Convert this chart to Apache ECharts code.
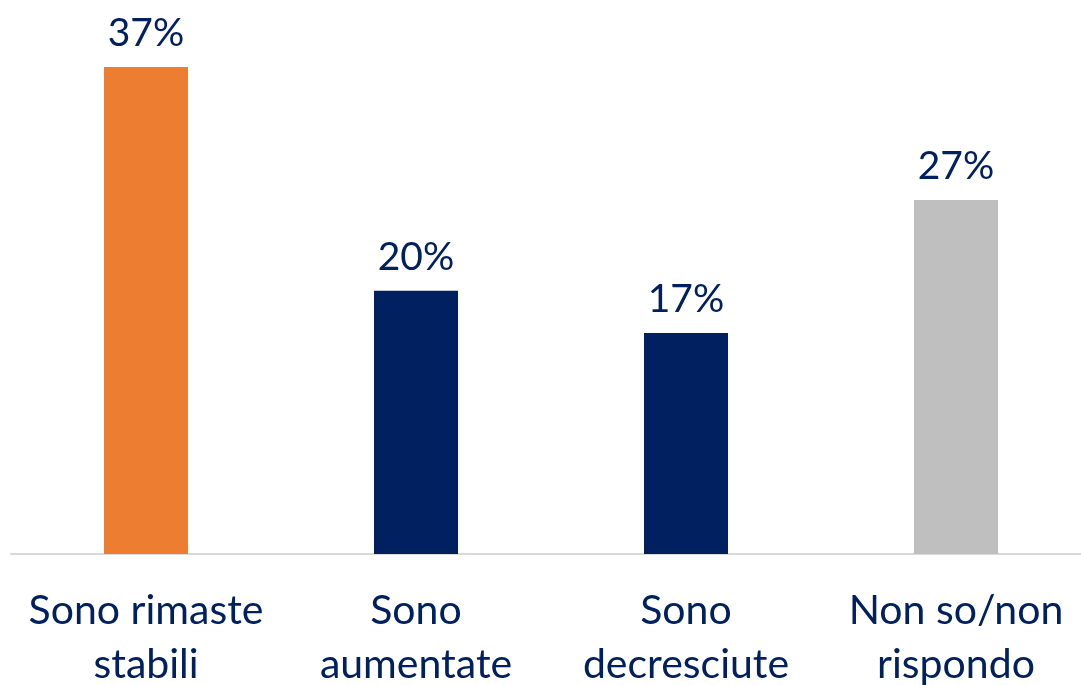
<!DOCTYPE html>
<html>
<head>
<meta charset="UTF-8">
<title>Bar chart</title>
<script src="https://cdn.jsdelivr.net/npm/echarts@6/dist/echarts.min.js"></script>
<style>
  html, body { margin: 0; padding: 0; background: #fff; }
  #main { width: 1081px; height: 685px; }
</style>
</head>
<body>
<div id="main"></div>
<script type="text/javascript">
var categories = ['Sono rimaste\nstabili', 'Sono\naumentate', 'Sono\ndecresciute', 'Non so/non\nrispondo'];
var values = [37, 20, 16.8, 26.9];
var labels = ['37%', '20%', '17%', '27%'];
var colors = ['#ED7D31', '#002060', '#002060', '#BFBFBF'];

var myChart = echarts.init(document.getElementById('main'));

var data = [];
for (var i = 0; i < values.length; i++) {
  data.push({ value: values[i], itemStyle: { color: colors[i] } });
}

var option = {
  animation: false,
  textStyle: { fontFamily: 'Lato' },
  grid: { left: 11, right: -10, top: 67, bottom: 131, outerBoundsMode: 'none', containLabel: false },
  xAxis: {
    type: 'category',
    data: categories,
    axisLine: { lineStyle: { color: '#D9D9D9', width: 2 } },
    axisTick: { show: false },
    axisLabel: {
      color: '#002060',
      fontSize: 41,
      lineHeight: 54,
      margin: 30,
      interval: 0
    }
  },
  yAxis: {
    type: 'value',
    min: 0,
    max: 37,
    show: false,
    splitLine: { show: false }
  },
  series: [{
    type: 'bar',
    data: data,
    barWidth: 84,
    label: {
      show: true,
      position: 'top',
      distance: 14,
      color: '#002060',
      fontSize: 39,
      formatter: function (p) { return labels[p.dataIndex]; }
    }
  }]
};

myChart.setOption(option);
</script>
</body>
</html>
